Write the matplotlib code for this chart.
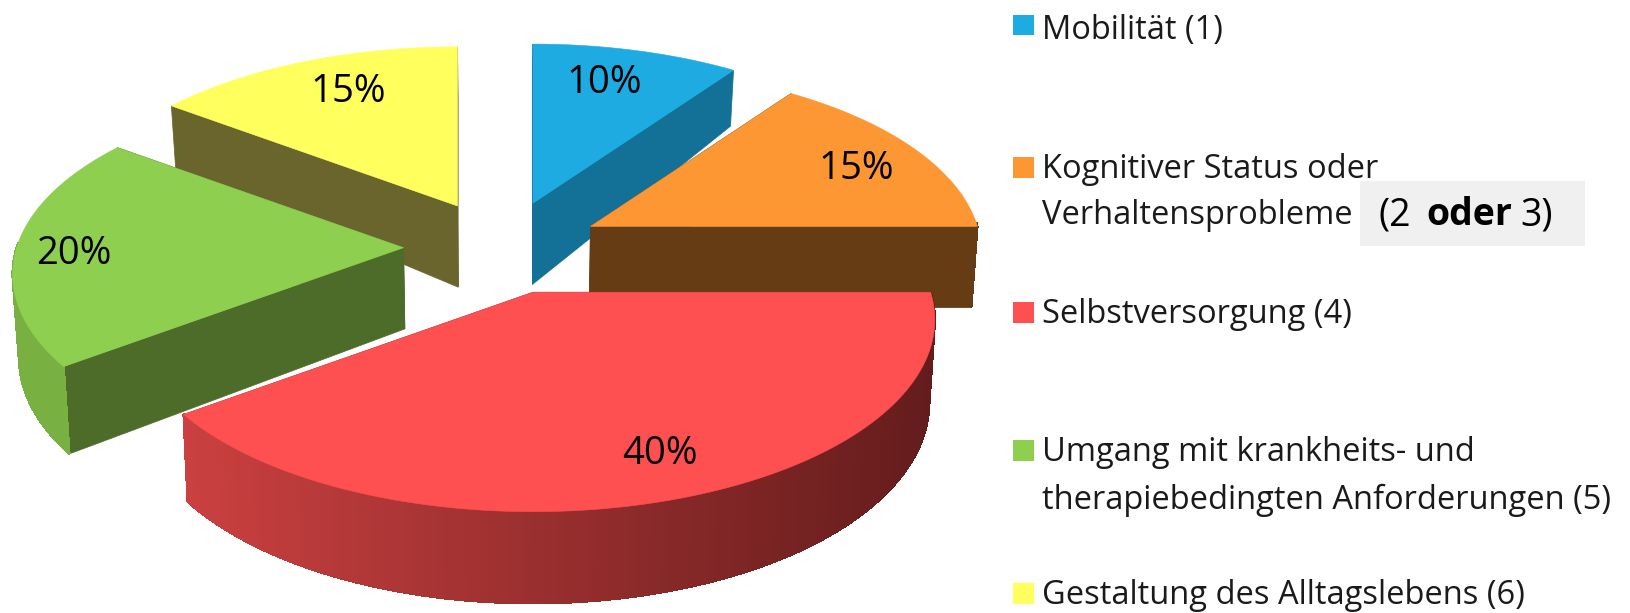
import numpy as np
import matplotlib
matplotlib.use("Agg")
import matplotlib.pyplot as plt
from matplotlib.colors import to_rgb
from matplotlib.patches import Polygon, Rectangle

plt.rcParams['font.family'] = ['Open Sans', 'DejaVu Sans']

# data
shares = [10, 15, 40, 20, 15]
pct_labels = ["10%", "15%", "40%", "20%", "15%"]
legend_lines = [
    ["Mobilität (1)"],
    ["Kognitiver Status oder", "Verhaltensprobleme"],
    ["Selbstversorgung (4)"],
    ["Umgang mit krankheits- und", "therapiebedingten Anforderungen (5)"],
    ["Gestaltung des Alltagslebens (6)"],
]

# colours
top_cols = ["#1dabe2", "#fd9734", "#fe5050", "#8fcf50", "#ffff5e"]
face_cols = ["#137197", "#663c14", "#8a2c2c", "#4d6c2a", "#6a652c"]
rim_cols = ["#137197", "#663c14", None, "#78b041", "#6a652c"]
RED_LEFT = "#cb4040"
RED_RIGHT = "#641c1c"

# layout, in the coordinates of the 1568 wide view
CX, CY = 483, 238      # pie centre before exploding
EXPLODE_X, EXPLODE_Y = 95, 45
RX, RY = 372, 179      # radii of the top ellipse
NEAR_SCALE = 0.00065   # slices pushed towards the viewer get bigger
PERSP = 0.146
LEAN = 0.013
PCT_POS = [(581, 80), (823, 162), (634, 436), (71, 244), (335, 88)]
LEGEND_Y = [[29], [163, 207], [302], [435, 481], [572]]
LEGEND_KEY_Y = [24, 161, 300, 433, 570]


def top_point(apex, t, r=1.0):
    scale = 1 + max(apex[1] - CY, 0) * NEAR_SCALE
    f = 1 - PERSP * np.cos(t) * r
    return apex[0] + RX * scale * r * f * np.sin(t), apex[1] - RY * scale * r * f * np.cos(t)


def depth(t, r=1.0):
    c = np.cos(t) * r
    return 78 - 30 * np.maximum(c, 0) + 10 * np.maximum(-c, 0)


def bottom_point(apex, t, r=1.0):
    x, y = top_point(apex, t, r)
    return x + (CX - x) * LEAN, y + depth(t, r)


def side_face(ax, apex, t, color):
    pts = [top_point(apex, t, 0), top_point(apex, t), bottom_point(apex, t), bottom_point(apex, t, 0)]
    ax.add_patch(Polygon(pts, fc=color, ec=color, lw=0.5))


def draw_slice(ax, i, t0, t1):
    mid = (t0 + t1) / 2
    apex = (CX + EXPLODE_X * np.sin(mid), CY - EXPLODE_Y * np.cos(mid))

    for t in sorted([t0, t1], key=lambda a: -np.cos(a)):
        side_face(ax, apex, t, face_cols[i])

    # outer wall, only the part facing the viewer, in strips for the gradient
    ts = np.linspace(t0, t1, 160)
    tx, ty = top_point(apex, ts)
    bx, by = bottom_point(apex, ts)
    for k in range(len(ts) - 1):
        if np.cos(ts[k]) > 0.02:
            continue
        if rim_cols[i] is None:
            frac = (tx[k] - tx.min()) / (tx.max() - tx.min())
            col = np.array(to_rgb(RED_LEFT)) * (1 - frac) + np.array(to_rgb(RED_RIGHT)) * frac
        else:
            col = rim_cols[i]
        quad = [(tx[k], ty[k]), (tx[k + 1], ty[k + 1]), (bx[k + 1], by[k + 1]), (bx[k], by[k])]
        ax.add_patch(Polygon(quad, fc=col, ec=col, lw=1.0, antialiased=False))

    outline = np.vstack([[apex], np.column_stack([tx, ty])])
    ax.add_patch(Polygon(outline, fc=top_cols[i], ec=top_cols[i], lw=0.4))


def draw_pie(ax):
    edges = np.cumsum([0] + shares) / sum(shares) * 2 * np.pi
    for i in [0, 4, 3, 1, 2]:
        draw_slice(ax, i, edges[i], edges[i + 1])
    for (x, y), txt in zip(PCT_POS, pct_labels):
        ax.text(x, y, txt, fontsize=27.5, ha='center', va='center', color='black')


def draw_legend(ax):
    ax.add_patch(Rectangle((1307, 174), 217, 62, fc="#f0f0f0", ec='none'))
    for i, lines in enumerate(legend_lines):
        ax.add_patch(Rectangle((974, LEGEND_KEY_Y[i] - 10), 20, 20, fc=top_cols[i], ec='none'))
        for y, line in zip(LEGEND_Y[i], lines):
            ax.text(1002, y, line, fontsize=23.5, ha='left', va='center', color='#1a1a1a')
    ax.text(1325, 207, "(2", fontsize=27, ha='left', va='center')
    ax.text(1371, 207, "oder", fontsize=27, ha='left', va='center', fontweight='bold')
    ax.text(1462, 207, "3)", fontsize=27, ha='left', va='center')


if __name__ == "__main__":
    fig = plt.figure(figsize=(16.31, 6.13), dpi=100)
    ax = fig.add_axes([0, 0, 1, 1])
    ax.set_xlim(0, 1568)
    ax.set_ylim(589, 0)
    ax.axis('off')
    draw_pie(ax)
    draw_legend(ax)
    fig.savefig("out.png", dpi=100)
